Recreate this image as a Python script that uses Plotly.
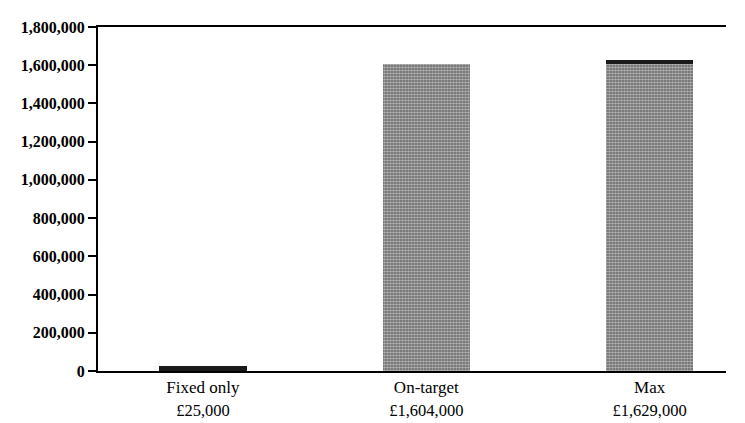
import plotly.graph_objects as go

categories = ["Fixed only", "On-target", "Max"]
amount_labels = ["£25,000", "£1,604,000", "£1,629,000"]
base_values = [25000, 1604000, 1604000]
top_values = [0, 0, 25000]
y_ticks = [0, 200000, 400000, 600000, 800000, 1000000, 1200000, 1400000, 1600000, 1800000]

xpos = list(range(len(categories)))
ticktext = [f"{c}<br><span style='font-size:16.5px'>{a}</span>" for c, a in zip(categories, amount_labels)]

fig = go.Figure()
fig.add_trace(go.Bar(
    x=xpos, y=base_values, width=0.39,
    marker=dict(
        color=["#1a1a1a", "#5e5e5e", "#5e5e5e"],
        line=dict(width=0),
        pattern=dict(shape=["", ".", "."], fgcolor="#000000", bgcolor="#adadad",
                     size=3, solidity=0.65),
    ),
    showlegend=False,
))
fig.add_trace(go.Bar(
    x=xpos, y=top_values, width=0.39,
    marker=dict(color="#1a1a1a", line=dict(width=0)),
    showlegend=False,
))

fig.update_layout(
    barmode="stack",
    width=745, height=423,
    margin=dict(l=90, r=27, t=11, b=51),
    paper_bgcolor="white", plot_bgcolor="white",
    font=dict(family="Liberation Serif", color="black"),
    xaxis=dict(
        range=[-0.47, 2.342],
        tickvals=xpos, ticktext=ticktext,
        tickfont=dict(size=17, family="Liberation Serif"),
        showline=True, linecolor="black", linewidth=2, mirror=True,
        ticks="", showgrid=False, zeroline=False,
    ),
    yaxis=dict(
        range=[0, 1800000],
        tickvals=y_ticks,
        ticktext=[f"{v:,}" for v in y_ticks],
        tickfont=dict(size=16, family="Liberation Serif", weight="bold"),
        showline=True, linecolor="black", linewidth=2,
        ticks="outside", ticklen=8, tickwidth=2, tickcolor="black",
        showgrid=False, zeroline=False,
    ),
)

fig.write_html("out.html")
